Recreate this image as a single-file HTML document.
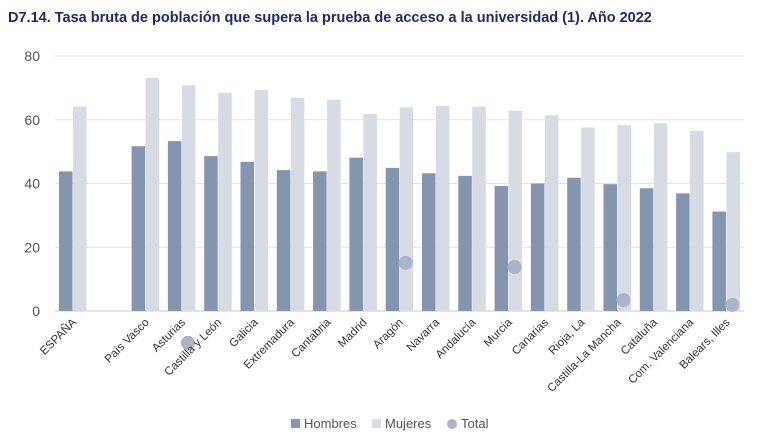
<!DOCTYPE html>
<html><head><meta charset="utf-8"><style>
body{margin:0;background:#fff;width:769px;height:438px;overflow:hidden;font-family:"Liberation Sans",Arial,sans-serif}
</style></head><body>
<svg id="c" width="769" height="438">
<text x="8" y="22" font-size="14.5" font-weight="bold" fill="#1f2a6b">D7.14. Tasa bruta de población que supera la prueba de acceso a la universidad (1). Año 2022</text>
<g id="grid"></g><g id="bars"></g><g id="pts"></g><g id="xl"></g>
<g>
<rect x="291" y="419" width="9" height="9" fill="#8496af"/>
<text x="304" y="428" font-size="13" fill="#555">Hombres</text>
<rect x="372" y="419" width="9" height="9" fill="#d6dbe4"/>
<text x="385" y="428" font-size="13" fill="#555">Mujeres</text>
<circle cx="452" cy="424" r="5" fill="#aab5cc"/>
<text x="461" y="428" font-size="13" fill="#555">Total</text>
</g>
</svg>
<script>
const categories=["ESPAÑA","","País Vasco","Asturias","Castilla y León","Galicia","Extremadura","Cantabria","Madrid","Aragón","Navarra","Andalucía","Murcia","Canarias","Rioja, La","Castilla-La Mancha","Cataluña","Com. Valenciana","Balears, Illes"];
const hombres=[43.8,null,51.7,53.3,48.6,46.8,44.2,43.8,48.1,44.9,43.2,42.4,39.2,40.0,41.8,39.8,38.5,36.9,31.2];
const mujeres=[64.1,null,73.1,70.8,68.5,69.3,66.9,66.3,61.8,63.9,64.3,64.1,62.8,61.4,57.6,58.3,58.9,56.5,49.8];
const total=[null,null,null,-10,null,null,null,null,null,15.1,null,null,13.8,null,null,3.4,null,null,1.9];
const yTicks=[0,20,40,60,80];
const NS="http://www.w3.org/2000/svg";
const y=v=>311-v*(255/80);
const x=i=>73+i*36.3;
function mk(t,a,p){const e=document.createElementNS(NS,t);for(const k in a)e.setAttribute(k,a[k]);document.getElementById(p).appendChild(e);return e;}
yTicks.forEach(t=>{
 const l=mk('line',{x1:55,x2:744,y1:y(t),y2:y(t),stroke:t===0?'#c8c8c8':'#e3e3e3','stroke-width':1},'grid');
 
 
 const tx=mk('text',{x:40,y:y(t)+5,'font-size':14,'text-anchor':'end',fill:'#555'},'grid');
 tx.textContent=t;
 
 
});
categories.forEach((c,i)=>{
 if(hombres[i]!=null){const r=mk('rect',{x:x(i)-14,y:y(hombres[i]),width:13.5,height:y(0)-y(hombres[i]),fill:'#8496af'},'bars');
  
  }
 if(mujeres[i]!=null){const r=mk('rect',{x:x(i),y:y(mujeres[i]),width:13.5,height:y(0)-y(mujeres[i]),fill:'#d6dbe4'},'bars');
  
  }
 if(total[i]!=null){const p=mk('circle',{cx:x(i)+6,cy:y(total[i]),r:7,fill:'#aab5cc'},'pts');
  
  }
 if(c){const t=mk('text',{x:0,y:0,'font-size':11.5,'text-anchor':'end',fill:'#333',transform:`translate(${x(i)+4},${y(0)+12}) rotate(-45)`},'xl');
  t.textContent=c;
  
  }
});
</script>
</body></html>
